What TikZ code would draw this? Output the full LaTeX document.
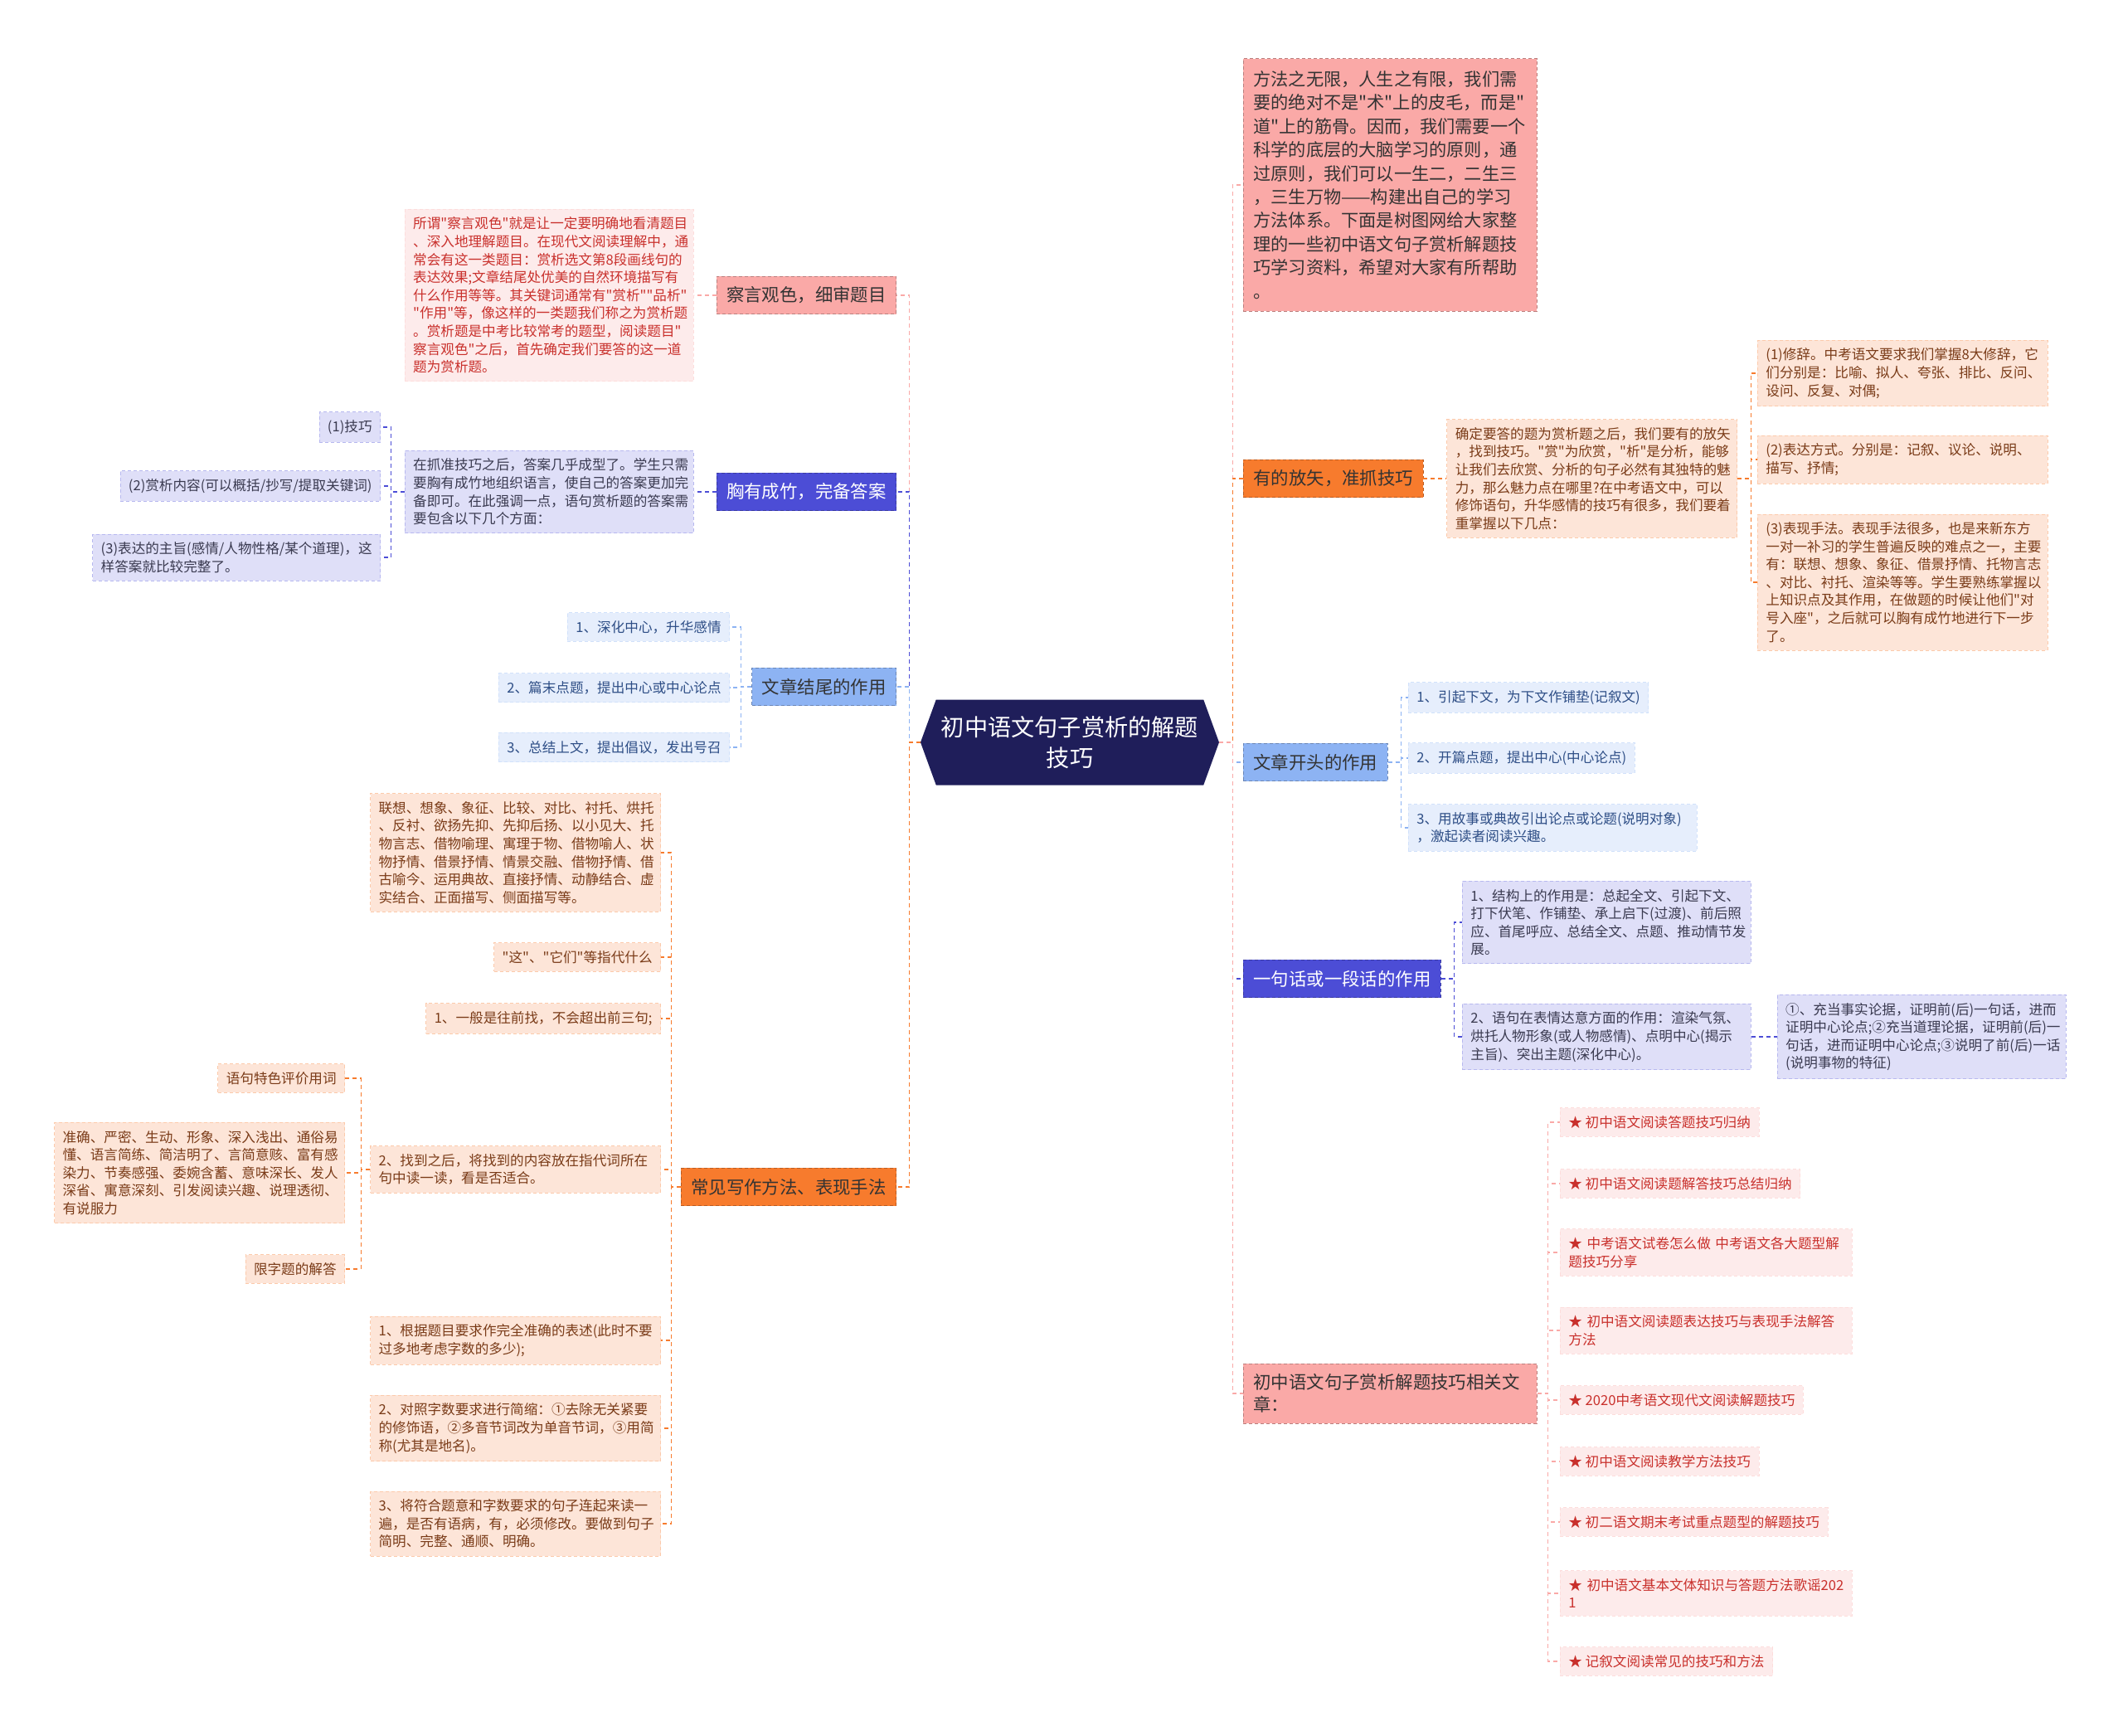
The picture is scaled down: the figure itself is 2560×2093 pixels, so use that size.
\documentclass[tikz,border=0pt]{standalone}
\usepackage{fontspec}
\setmainfont{Noto Sans CJK SC}[Ligatures=TeXOff]
\usepackage{tikz}
\usetikzlibrary{shapes.symbols, positioning}

\definecolor{rootfill}{HTML}{1F1E5A}
\definecolor{maintext}{HTML}{333333}
\definecolor{pinkmain}{HTML}{FAA9A7}
\definecolor{pinkleaf}{HTML}{FDEBEB}
\definecolor{pinktext}{HTML}{C9302C}
\definecolor{violetmain}{HTML}{4C4DD6}
\definecolor{violetleaf}{HTML}{DFDFF8}
\definecolor{violettext}{HTML}{3A3A50}
\definecolor{bluemain}{HTML}{8DB3F3}
\definecolor{blueleaf}{HTML}{E6EEFC}
\definecolor{bluetext}{HTML}{2E4E86}
\definecolor{orangemain}{HTML}{F77B2D}
\definecolor{orangeleaf}{HTML}{FDE5D8}
\definecolor{orangetext}{HTML}{7A3B18}

\begin{document}
\begin{tikzpicture}[
  x=0.5pt, y=-0.5pt,
  rootbox/.style={signal, signal to=east and west, signal pointer angle=140, fill=rootfill, text=white, align=center, font=\fontsize{14.1}{18.8}\selectfont, minimum width=180pt, minimum height=51.5pt, inner xsep=3pt},
  mainbox/.style={fill=#1main, draw=#1main!75!black, dash pattern=on 2pt off 1.5pt, line width=0.4pt, inner xsep=6pt, inner ysep=6.3pt, align=left, font=\fontsize{10.7}{13.6}\selectfont, text=maintext},
  leafbox/.style={fill=#1leaf, draw=#1main!40, dash pattern=on 2pt off 1.5pt, line width=0.4pt, inner xsep=5pt, inner ysep=4.8pt, align=left, font=\fontsize{8.3}{10.8}\selectfont, text=#1text},
  conn/.style={draw=#1main, dash pattern=on 2.5pt off 2pt, line width=0.6pt}
]
\useasboundingbox (0,0) rectangle (2560,2093);

\node[rootbox] (root) at (1290,895) {初中语文句子赏析的解题\\技巧};

% left side
\node[mainbox=pink, anchor=east] (m1) at (1081,356) {察言观色，细审题目};
\node[mainbox=violet, text=white, anchor=east] (m2) at (1081,593) {胸有成竹，完备答案};
\node[mainbox=blue, anchor=east] (m3) at (1081,828) {文章结尾的作用};
\node[mainbox=orange, anchor=east] (m4) at (1081,1431) {常见写作方法、表现手法};

\node[leafbox=pink, text width=164pt, left=13.5pt of m1] (l1) {所谓"察言观色"就是让一定要明确地看清题目\\、深入地理解题目。在现代文阅读理解中，通\\常会有这一类题目：赏析选文第8段画线句的\\表达效果;文章结尾处优美的自然环境描写有\\什么作用等等。其关键词通常有"赏析""品析"\\"作用"等，像这样的一类题我们称之为赏析题\\。赏析题是中考比较常考的题型，阅读题目"\\察言观色"之后，首先确定我们要答的这一道\\题为赏析题。};

\node[leafbox=violet, text width=164pt, left=13.5pt of m2] (l2) {在抓准技巧之后，答案几乎成型了。学生只需\\要胸有成竹地组织语言，使自己的答案更加完\\备即可。在此强调一点，语句赏析题的答案需\\要包含以下几个方面：};
\node[leafbox=violet, anchor=east] (l2a) at (459,515) {(1)技巧};
\node[leafbox=violet, anchor=east] (l2b) at (459,586) {(2)赏析内容(可以概括/抄写/提取关键词)};
\node[leafbox=violet, anchor=east] (l2c) at (459,672) {(3)表达的主旨(感情/人物性格/某个道理)，这\\样答案就比较完整了。};

\node[leafbox=blue, anchor=east] (l3a) at (880,756) {1、深化中心，升华感情};
\node[leafbox=blue, anchor=east] (l3b) at (880,829) {2、篇末点题，提出中心或中心论点};
\node[leafbox=blue, anchor=east] (l3c) at (880,901) {3、总结上文，提出倡议，发出号召};

\node[leafbox=orange, text width=165pt, anchor=east] (l4a) at (797,1028) {联想、想象、象征、比较、对比、衬托、烘托\\、反衬、欲扬先抑、先抑后扬、以小见大、托\\物言志、借物喻理、寓理于物、借物喻人、状\\物抒情、借景抒情、情景交融、借物抒情、借\\古喻今、运用典故、直接抒情、动静结合、虚\\实结合、正面描写、侧面描写等。};
\node[leafbox=orange, anchor=east] (l4b) at (797,1154) {"这"、"它们"等指代什么};
\node[leafbox=orange, anchor=east] (l4c) at (797,1228) {1、一般是往前找，不会超出前三句;};
\node[leafbox=orange, text width=165pt, anchor=east] (l4d) at (797,1410) {2、找到之后，将找到的内容放在指代词所在\\句中读一读，看是否适合。};
\node[leafbox=orange, text width=165pt, anchor=east] (l4e) at (797,1616) {1、根据题目要求作完全准确的表述(此时不要\\过多地考虑字数的多少);};
\node[leafbox=orange, text width=165pt, anchor=east] (l4f) at (797,1722) {2、对照字数要求进行简缩：①去除无关紧要\\的修饰语，②多音节词改为单音节词，③用简\\称(尤其是地名)。};
\node[leafbox=orange, text width=165pt, anchor=east] (l4g) at (797,1837) {3、将符合题意和字数要求的句子连起来读一\\遍，是否有语病，有，必须修改。要做到句子\\简明、完整、通顺、明确。};

\node[leafbox=orange, anchor=east] (l4d1) at (416,1300) {语句特色评价用词};
\node[leafbox=orange, text width=165pt, anchor=east] (l4d2) at (416,1414) {准确、严密、生动、形象、深入浅出、通俗易\\懂、语言简练、简洁明了、言简意赅、富有感\\染力、节奏感强、委婉含蓄、意味深长、发人\\深省、寓意深刻、引发阅读兴趣、说理透彻、\\有说服力};
\node[leafbox=orange, anchor=east] (l4d3) at (416,1530) {限字题的解答};

% right side
\node[mainbox=pink, text width=165pt, inner ysep=7.5pt, font=\fontsize{10.6}{14.2}\selectfont, anchor=west] (r0) at (1499,223) {方法之无限，人生之有限，我们需\\要的绝对不是"术"上的皮毛，而是"\\道"上的筋骨。因而，我们需要一个\\科学的底层的大脑学习的原则，通\\过原则，我们可以一生二，二生三\\，三生万物——构建出自己的学习\\方法体系。下面是树图网给大家整\\理的一些初中语文句子赏析解题技\\巧学习资料，希望对大家有所帮助\\。};

\node[mainbox=orange, anchor=west] (r1) at (1499,577) {有的放矢，准抓技巧};
\node[leafbox=orange, text width=165pt, right=14pt of r1] (r1l) {确定要答的题为赏析题之后，我们要有的放矢\\，找到技巧。"赏"为欣赏，"析"是分析，能够\\让我们去欣赏、分析的句子必然有其独特的魅\\力，那么魅力点在哪里?在中考语文中，可以\\修饰语句，升华感情的技巧有很多，我们要着\\重掌握以下几点：};
\node[leafbox=orange, text width=165pt, anchor=west] (r1a) at (2119,450) {(1)修辞。中考语文要求我们掌握8大修辞，它\\们分别是：比喻、拟人、夸张、排比、反问、\\设问、反复、对偶;};
\node[leafbox=orange, text width=165pt, anchor=west] (r1b) at (2119,554) {(2)表达方式。分别是：记叙、议论、说明、\\描写、抒情;};
\node[leafbox=orange, text width=165pt, anchor=west] (r1c) at (2119,702) {(3)表现手法。表现手法很多，也是来新东方\\一对一补习的学生普遍反映的难点之一，主要\\有：联想、想象、象征、借景抒情、托物言志\\、对比、衬托、渲染等等。学生要熟练掌握以\\上知识点及其作用，在做题的时候让他们"对\\号入座"，之后就可以胸有成竹地进行下一步\\了。};

\node[mainbox=blue, anchor=west] (r2) at (1499,919) {文章开头的作用};
\node[leafbox=blue, anchor=west] (r2a) at (1698,841) {1、引起下文，为下文作铺垫(记叙文)};
\node[leafbox=blue, anchor=west] (r2b) at (1698,914) {2、开篇点题，提出中心(中心论点)};
\node[leafbox=blue, text width=164pt, anchor=west] (r2c) at (1698,998) {3、用故事或典故引出论点或论题(说明对象)\\，激起读者阅读兴趣。};

\node[mainbox=violet, text=white, anchor=west] (r3) at (1499,1180) {一句话或一段话的作用};
\node[leafbox=violet, text width=164pt, anchor=west] (r3a) at (1763,1112) {1、结构上的作用是：总起全文、引起下文、\\打下伏笔、作铺垫、承上启下(过渡)、前后照\\应、首尾呼应、总结全文、点题、推动情节发\\展。};
\node[leafbox=violet, text width=164pt, anchor=west] (r3b) at (1763,1250) {2、语句在表情达意方面的作用：渲染气氛、\\烘托人物形象(或人物感情)、点明中心(揭示\\主旨)、突出主题(深化中心)。};
\node[leafbox=violet, text width=164pt, right=15.5pt of r3b] (r3b1) {①、充当事实论据，证明前(后)一句话，进而\\证明中心论点;②充当道理论据，证明前(后)一\\句话，进而证明中心论点;③说明了前(后)一话\\(说明事物的特征)};

\node[mainbox=pink, text width=165pt, anchor=west] (r4) at (1499,1680) {初中语文句子赏析解题技巧相关文\\章：};
\node[leafbox=pink, anchor=west] (r4a) at (1881,1353) {★~初中语文阅读答题技巧归纳};
\node[leafbox=pink, anchor=west] (r4b) at (1881,1427) {★~初中语文阅读题解答技巧总结归纳};
\node[leafbox=pink, text width=166pt, anchor=west] (r4c) at (1881,1510) {★~中考语文试卷怎么做~中考语文各大题型解\\题技巧分享};
\node[leafbox=pink, text width=166pt, anchor=west] (r4d) at (1881,1604) {★~初中语文阅读题表达技巧与表现手法解答\\方法};
\node[leafbox=pink, anchor=west] (r4e) at (1881,1688) {★~2020中考语文现代文阅读解题技巧};
\node[leafbox=pink, anchor=west] (r4f) at (1881,1762) {★~初中语文阅读教学方法技巧};
\node[leafbox=pink, anchor=west] (r4g) at (1881,1835) {★~初二语文期末考试重点题型的解题技巧};
\node[leafbox=pink, text width=166pt, anchor=west] (r4h) at (1881,1921) {★~初中语文基本文体知识与答题方法歌谣202\\1};
\node[leafbox=pink, anchor=west] (r4i) at (1881,2003) {★~记叙文阅读常见的技巧和方法};

% connectors, left
\draw[conn=pink] (root.west) -- ++(-13,0) |- (m1.east);
\draw[conn=violet] (root.west) -- ++(-13,0) |- (m2.east);
\draw[conn=blue] (root.west) -- ++(-13,0) |- (m3.east);
\draw[conn=orange] (root.west) -- ++(-13,0) |- (m4.east);

\draw[conn=pink] (m1.west) -- (l1.east);
\draw[conn=violet] (m2.west) -- (l2.east);
\draw[conn=violet] (l2.west) -- ++(-16,0) |- (l2a.east);
\draw[conn=violet] (l2.west) -- ++(-16,0) |- (l2b.east);
\draw[conn=violet] (l2.west) -- ++(-16,0) |- (l2c.east);

\draw[conn=blue] (m3.west) -- ++(-13,0) |- (l3a.east);
\draw[conn=blue] (m3.west) -- ++(-13,0) |- (l3b.east);
\draw[conn=blue] (m3.west) -- ++(-13,0) |- (l3c.east);

\draw[conn=orange] (m4.west) -- ++(-11,0) |- (l4a.east);
\draw[conn=orange] (m4.west) -- ++(-11,0) |- (l4b.east);
\draw[conn=orange] (m4.west) -- ++(-11,0) |- (l4c.east);
\draw[conn=orange] (m4.west) -- ++(-11,0) |- (l4d.east);
\draw[conn=orange] (m4.west) -- ++(-11,0) |- (l4e.east);
\draw[conn=orange] (m4.west) -- ++(-11,0) |- (l4f.east);
\draw[conn=orange] (m4.west) -- ++(-11,0) |- (l4g.east);
\draw[conn=orange] (l4d.west) -- ++(-11,0) |- (l4d1.east);
\draw[conn=orange] (l4d.west) -- ++(-11,0) |- (l4d2.east);
\draw[conn=orange] (l4d.west) -- ++(-11,0) |- (l4d3.east);

% connectors, right
\draw[conn=pink] (root.east) -- ++(16,0) |- (r0.west);
\draw[conn=orange] (root.east) -- ++(16,0) |- (r1.west);
\draw[conn=blue] (root.east) -- ++(16,0) |- (r2.west);
\draw[conn=violet] (root.east) -- ++(16,0) |- (r3.west);
\draw[conn=pink] (root.east) -- ++(16,0) |- (r4.west);

\draw[conn=orange] (r1.east) -- (r1l.west);
\draw[conn=orange] (r1l.east) -- ++(16,0) |- (r1a.west);
\draw[conn=orange] (r1l.east) -- ++(16,0) |- (r1b.west);
\draw[conn=orange] (r1l.east) -- ++(16,0) |- (r1c.west);

\draw[conn=blue] (r2.east) -- ++(16,0) |- (r2a.west);
\draw[conn=blue] (r2.east) -- ++(16,0) |- (r2b.west);
\draw[conn=blue] (r2.east) -- ++(16,0) |- (r2c.west);

\draw[conn=violet] (r3.east) -- ++(16,0) |- (r3a.west);
\draw[conn=violet] (r3.east) -- ++(16,0) |- (r3b.west);
\draw[conn=violet] (r3b.east) -- (r3b1.west);

\draw[conn=pink] (r4.east) -- ++(13,0) |- (r4a.west);
\draw[conn=pink] (r4.east) -- ++(13,0) |- (r4b.west);
\draw[conn=pink] (r4.east) -- ++(13,0) |- (r4c.west);
\draw[conn=pink] (r4.east) -- ++(13,0) |- (r4d.west);
\draw[conn=pink] (r4.east) -- ++(13,0) |- (r4e.west);
\draw[conn=pink] (r4.east) -- ++(13,0) |- (r4f.west);
\draw[conn=pink] (r4.east) -- ++(13,0) |- (r4g.west);
\draw[conn=pink] (r4.east) -- ++(13,0) |- (r4h.west);
\draw[conn=pink] (r4.east) -- ++(13,0) |- (r4i.west);
\end{tikzpicture}
\end{document}
